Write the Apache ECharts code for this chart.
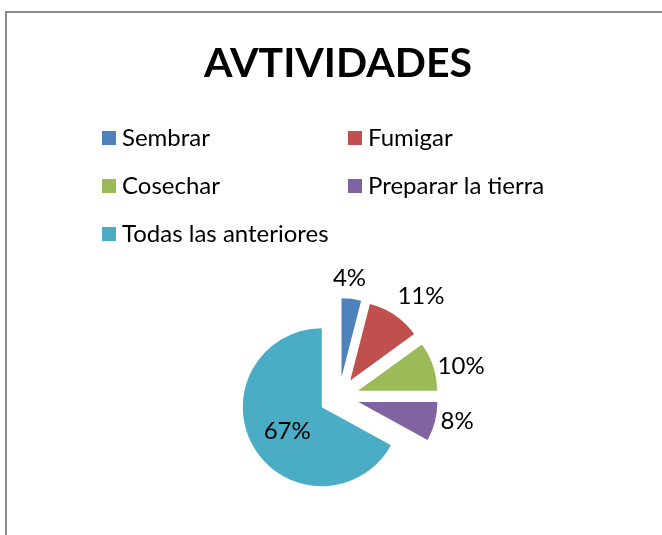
<!DOCTYPE html>
<html>
<head>
<meta charset="utf-8">
<script src="https://cdn.jsdelivr.net/npm/echarts@6/dist/echarts.min.js"></script>
<style>
  body { margin: 0; background: #fff; }
  #frame { position: absolute; left: 5px; top: 11px; width: 700px; height: 600px;
           border-left: 2px solid #8c8c8c; border-top: 2px solid #8c8c8c; }
  #main { position: absolute; left: 0; top: 0; width: 662px; height: 535px; }
</style>
</head>
<body>
<div id="frame"></div>
<div id="main"></div>
<script>
const chart = echarts.init(document.querySelector('#main'));

// datos del gráfico
const categorias = ['Sembrar', 'Fumigar', 'Cosechar', 'Preparar la tierra', 'Todas las anteriores'];
const valores = [4, 11, 10, 8, 67];
const colores = ['#4F81BD', '#C0504D', '#9BBB59', '#8064A2', '#4BACC6'];

// ajuste fino de las etiquetas (dx, dy)
const desplazamientos = [[-25, -9], [-9, -9], [-12, 4], [-11, -3], [2, 2]];

const fuente = 'Lato';

const legendaBase = {
    orient: 'vertical',
    itemWidth: 14,
    itemHeight: 14,
    itemGap: 24,
    icon: 'rect',
    selectedMode: false,
    textStyle: { fontFamily: fuente, fontSize: 24, color: '#000', lineHeight: 24, padding: [0, 0, 0, 1] }
};

let option = {
    animation: false,
    title: {
        text: 'AVTIVIDADES',
        left: 199,
        top: 38,
        textStyle: { fontFamily: fuente, fontWeight: 'bold', fontSize: 41, color: '#000' }
    },
    legend: [
        Object.assign({}, legendaBase, { left: 97, top: 121, data: [categorias[0], categorias[2], categorias[4]] }),
        Object.assign({}, legendaBase, { left: 343, top: 121, data: [categorias[1], categorias[3]] })
    ],
    series: [
        {
            type: 'pie',
            center: [339, 397],
            radius: 79,
            startAngle: 90,
            clockwise: true,
            selectedMode: 'multiple',
            selectedOffset: 20,
            avoidLabelOverlap: false,
            label: {
                show: true,
                position: 'outside',
                formatter: '{d}%',
                fontFamily: fuente,
                fontSize: 24,
                color: '#000'
            },
            labelLine: { show: false, length: 12, length2: 0 },
            labelLayout: (params) => ({
                dx: desplazamientos[params.dataIndex][0],
                dy: desplazamientos[params.dataIndex][1]
            }),
            emphasis: { disabled: true },
            data: categorias.map((c, i) => ({
                name: c,
                value: valores[i],
                selected: true,
                itemStyle: { color: colores[i] },
                label: i === 4 ? { position: 'inside' } : {}
            }))
        }
    ]
};
chart.setOption(option);
</script>
</body>
</html>
